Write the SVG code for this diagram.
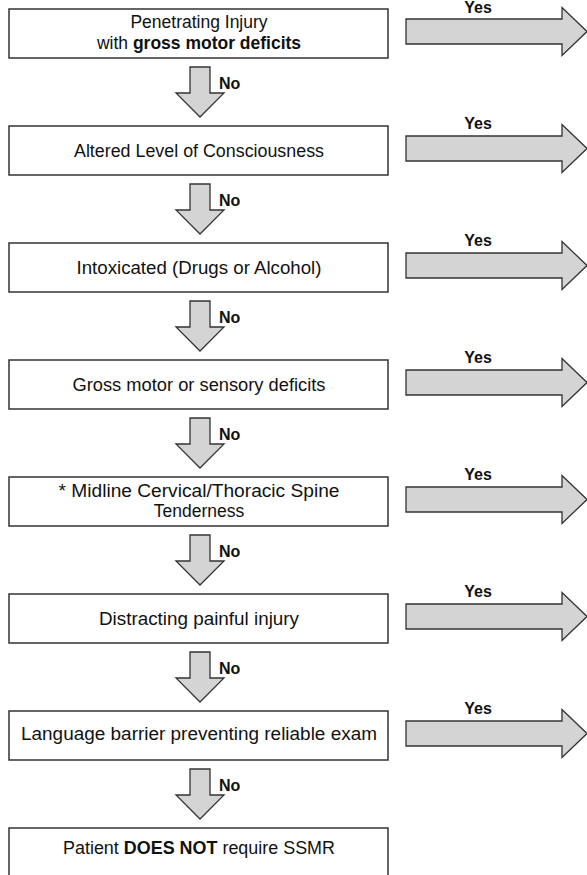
<svg xmlns="http://www.w3.org/2000/svg" width="587" height="875" viewBox="0 0 587 875">
<style>
.box{fill:#fff;stroke:#333;stroke-width:1.5}
.arr{fill:#d4d4d4;stroke:#333;stroke-width:1.3;stroke-linejoin:miter}
.t{font-family:"Liberation Sans",Arial,sans-serif;font-size:17.5px;fill:#111;text-anchor:middle}
.b{font-weight:bold}
.lab{font-family:"Liberation Sans",Arial,sans-serif;font-size:16px;font-weight:bold;fill:#111}
</style>
<rect width="587" height="875" fill="#fff"/>
<g id="n1"><rect class="box" x="9" y="9" width="379" height="49"/><text class="t" x="199" y="28">Penetrating Injury</text><text class="t" x="199" y="49">with <tspan class="b">gross motor deficits</tspan></text></g>
<g id="n2"><rect class="box" x="9" y="126" width="379" height="49"/><text class="t" x="199" y="157" textLength="250" lengthAdjust="spacingAndGlyphs">Altered Level of Consciousness</text></g>
<g id="n3"><rect class="box" x="9" y="243" width="379" height="49"/><text class="t" x="199" y="274" textLength="245" lengthAdjust="spacingAndGlyphs">Intoxicated (Drugs or Alcohol)</text></g>
<g id="n4"><rect class="box" x="9" y="360" width="379" height="49"/><text class="t" x="199" y="391" textLength="253" lengthAdjust="spacingAndGlyphs">Gross motor or sensory deficits</text></g>
<g id="n5"><rect class="box" x="9" y="477" width="379" height="49"/><text class="t" x="199" y="497" textLength="281" lengthAdjust="spacingAndGlyphs">* Midline Cervical/Thoracic Spine</text><text class="t" x="199" y="517">Tenderness</text></g>
<g id="n6"><rect class="box" x="9" y="594" width="379" height="49"/><text class="t" x="199" y="625" textLength="200" lengthAdjust="spacingAndGlyphs">Distracting painful injury</text></g>
<g id="n7"><rect class="box" x="9" y="711" width="379" height="49"/><text class="t" x="199" y="740" textLength="356" lengthAdjust="spacingAndGlyphs">Language barrier preventing reliable exam</text></g>
<g id="n8"><rect class="box" x="9" y="828" width="379" height="60"/><text class="t" x="199" y="854" textLength="272" lengthAdjust="spacingAndGlyphs">Patient <tspan class="b">DOES NOT</tspan> require SSMR</text></g>
<g id="connectors">
<g id="no-arrows">
<path class="arr" d="M190,67 L210,67 L210,93 L224,93 L200,117 L176,93 L190,93 Z"/>
<path class="arr" d="M190,184 L210,184 L210,210 L224,210 L200,234 L176,210 L190,210 Z"/>
<path class="arr" d="M190,301 L210,301 L210,327 L224,327 L200,351 L176,327 L190,327 Z"/>
<path class="arr" d="M190,418 L210,418 L210,444 L224,444 L200,468 L176,444 L190,444 Z"/>
<path class="arr" d="M190,535 L210,535 L210,561 L224,561 L200,585 L176,561 L190,561 Z"/>
<path class="arr" d="M190,652 L210,652 L210,678 L224,678 L200,702 L176,678 L190,678 Z"/>
<path class="arr" d="M190,769 L210,769 L210,795 L224,795 L200,819 L176,795 L190,795 Z"/>
<text class="lab" x="219" y="89">No</text>
<text class="lab" x="219" y="206">No</text>
<text class="lab" x="219" y="323">No</text>
<text class="lab" x="219" y="440">No</text>
<text class="lab" x="219" y="557">No</text>
<text class="lab" x="219" y="674">No</text>
<text class="lab" x="219" y="791">No</text>
</g>
<g id="yes-arrows">
<path class="arr" d="M406,19 L562,19 L562,7.5 L587,31.5 L562,55.5 L562,44 L406,44 Z"/>
<path class="arr" d="M406,136 L562,136 L562,124.5 L587,148.5 L562,172.5 L562,161 L406,161 Z"/>
<path class="arr" d="M406,253 L562,253 L562,241.5 L587,265.5 L562,289.5 L562,278 L406,278 Z"/>
<path class="arr" d="M406,370 L562,370 L562,358.5 L587,382.5 L562,406.5 L562,395 L406,395 Z"/>
<path class="arr" d="M406,487 L562,487 L562,475.5 L587,499.5 L562,523.5 L562,512 L406,512 Z"/>
<path class="arr" d="M406,604 L562,604 L562,592.5 L587,616.5 L562,640.5 L562,629 L406,629 Z"/>
<path class="arr" d="M406,721 L562,721 L562,709.5 L587,733.5 L562,757.5 L562,746 L406,746 Z"/>
<text class="lab" x="478" y="13" text-anchor="middle">Yes</text>
<text class="lab" x="478" y="129" text-anchor="middle">Yes</text>
<text class="lab" x="478" y="246" text-anchor="middle">Yes</text>
<text class="lab" x="478" y="363" text-anchor="middle">Yes</text>
<text class="lab" x="478" y="480" text-anchor="middle">Yes</text>
<text class="lab" x="478" y="597" text-anchor="middle">Yes</text>
<text class="lab" x="478" y="714" text-anchor="middle">Yes</text>
</g>
</g>
</svg>
